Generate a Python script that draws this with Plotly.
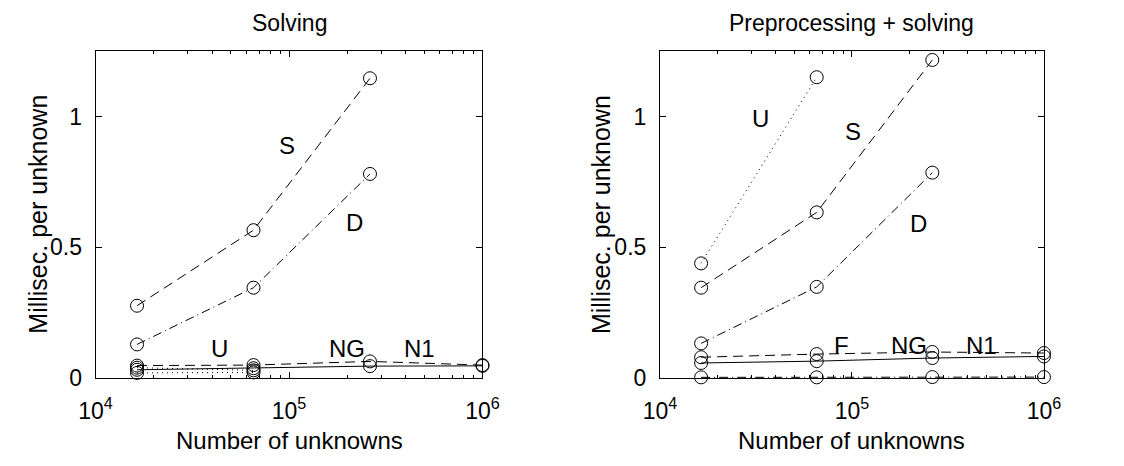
import math
import plotly.graph_objects as go

# ---------------- data ----------------
n_unknowns = [16384, 65536, 262144, 1000000]

# Left panel: "Solving"
solve_S = [0.277, 0.566, 1.147]
solve_D = [0.129, 0.346, 0.781]
solve_U = [0.020, 0.022]
solve_NG = [0.048, 0.050, 0.064, 0.050]
solve_N1 = [0.032, 0.038, 0.046, 0.047]
solve_X = [0.040, 0.030]

# Right panel: "Preprocessing + solving"
prep_U = [0.439, 1.151]
prep_S = [0.346, 0.634, 1.217]
prep_D = [0.133, 0.349, 0.786]
prep_NG = [0.080, 0.092, 0.100, 0.096]
prep_N1 = [0.058, 0.065, 0.077, 0.083]
prep_F = [0.003, 0.003, 0.004, 0.004]

titles = ["Solving", "Preprocessing + solving"]
xlabel = "Number of unknowns"
ylabel = "Millisec. per unknown"
xtick_vals = [1e4, 1e5, 1e6]
xtick_text = ["10<sup>4</sup>", "10<sup>5</sup>", "10<sup>6</sup>"]
ytick_vals = [0, 0.5, 1]
ytick_text = ["0", "0.5", "1"]

left_labels = [("S", 97700, 0.89), ("D", 218000, 0.595),
               ("U", 43600, 0.115), ("NG", 199000, 0.115),
               ("N1", 472000, 0.115)]
right_labels = [("U", 33400, 0.994), ("S", 100700, 0.944),
                ("D", 223000, 0.591), ("F", 87900, 0.126),
                ("NG", 199000, 0.126), ("N1", 475000, 0.126)]

# ---------------- styles ----------------
FONT = "Liberation Sans, Arial, Helvetica, sans-serif"
FS_TICK = 23
FS_TITLE = 23
FS_LABEL = 24
FS_XT = 24
FS_YT = 25
DASH = "10px,6px"
DASHDOT = "9px,4px,1px,4px"
DOT = "1px,4px"

fig = go.Figure()


def add(x, y, dash, xa, ya):
    fig.add_trace(go.Scatter(
        x=x, y=y, mode="lines+markers", xaxis=xa, yaxis=ya,
        line=dict(color="black", width=1, dash=dash),
        marker=dict(symbol="circle-open", size=13, color="black",
                    line=dict(width=1, color="black")),
        showlegend=False, cliponaxis=False))


# left
add(n_unknowns[:3], solve_S, DASH, "x", "y")
add(n_unknowns[:3], solve_D, DASHDOT, "x", "y")
add(n_unknowns[:2], solve_U, DOT, "x", "y")
add(n_unknowns[:2], solve_X, DOT, "x", "y")
add(n_unknowns, solve_NG, DASH, "x", "y")
add(n_unknowns, solve_N1, "solid", "x", "y")
# right
add(n_unknowns[:2], prep_U, DOT, "x2", "y2")
add(n_unknowns[:3], prep_S, DASH, "x2", "y2")
add(n_unknowns[:3], prep_D, DASHDOT, "x2", "y2")
add(n_unknowns, prep_NG, DASH, "x2", "y2")
add(n_unknowns, prep_N1, "solid", "x2", "y2")
add(n_unknowns, prep_F, DASHDOT, "x2", "y2")

W, H = 1124, 466
L_dom = [81 / W, 480 / W]
R_dom = [663 / W, 1059 / W]
Y_dom = [(H - 389) / H, (H - 52) / H]

minor_vals = [k * 10**e for e in (4, 5) for k in range(2, 10)]


def xaxis(dom, anchor):
    return dict(domain=dom, anchor=anchor, type="log", range=[4, 6],
                tickvals=xtick_vals, ticktext=xtick_text,
                ticks="inside", ticklen=6, tickwidth=1, tickcolor="black",
                showline=True, linecolor="black", linewidth=1, mirror="ticks",
                showgrid=False, zeroline=False,
                minor=dict(tickvals=minor_vals, ticks="inside", ticklen=3,
                           tickcolor="black", showgrid=False),
                tickfont=dict(family=FONT, size=FS_TICK, color="black"),
                ticklabelstandoff=12)


def yaxis(anchor):
    return dict(domain=Y_dom, anchor=anchor, range=[0, 1.253],
                tickvals=ytick_vals, ticktext=ytick_text,
                ticks="inside", ticklen=6, tickwidth=1, tickcolor="black",
                showline=True, linecolor="black", linewidth=1, mirror="ticks",
                showgrid=False, zeroline=False,
                tickfont=dict(family=FONT, size=FS_TICK, color="black"),
                ticklabelstandoff=8)


annotations = []
for txt, x, y in left_labels:
    annotations.append(dict(text=txt, x=math.log10(x), y=y, xref="x", yref="y",
                            showarrow=False,
                            font=dict(family=FONT, size=FS_LABEL, color="black")))
for txt, x, y in right_labels:
    annotations.append(dict(text=txt, x=math.log10(x), y=y, xref="x2", yref="y2",
                            showarrow=False,
                            font=dict(family=FONT, size=FS_LABEL, color="black")))

for dom, title in ((L_dom, titles[0]), (R_dom, titles[1])):
    cx = (dom[0] + dom[1]) / 2
    annotations.append(dict(text=title, x=cx, y=1 - 24 / H, xref="paper", yref="paper",
                            showarrow=False, xanchor="center", yanchor="middle",
                            font=dict(family=FONT, size=FS_TITLE, color="black")))
    annotations.append(dict(text=xlabel, x=cx, y=(H - 453) / H, xref="paper", yref="paper",
                            showarrow=False, xanchor="center", yanchor="middle",
                            font=dict(family=FONT, size=FS_XT, color="black")))

for px in (22, 603):
    annotations.append(dict(text=ylabel, x=px / W, y=(Y_dom[0] + Y_dom[1]) / 2,
                            xref="paper", yref="paper", textangle=-90,
                            showarrow=False, xanchor="center", yanchor="middle",
                            font=dict(family=FONT, size=FS_YT, color="black")))

fig.update_layout(
    width=W, height=H, margin=dict(l=0, r=0, t=0, b=0),
    paper_bgcolor="white", plot_bgcolor="white",
    xaxis=xaxis(L_dom, "y"), yaxis=yaxis("x"),
    xaxis2=xaxis(R_dom, "y2"), yaxis2=yaxis("x2"),
    annotations=annotations,
)

fig.write_html("out.html")
